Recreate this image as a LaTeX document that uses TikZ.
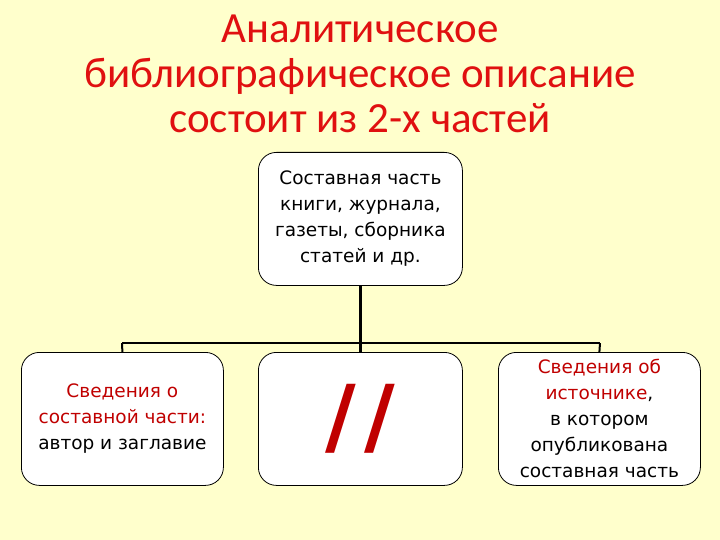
\documentclass[tikz,border=0pt]{standalone}
\usepackage{fontspec}
\setmainfont{Carlito}
\newfontfamily\boxfont{DejaVu Sans}
\begin{document}
\begin{tikzpicture}[x=1pt,y=-1pt,
  bx/.style={draw=black,fill=white,rounded corners=18pt,line width=0.8pt,minimum width=204pt,minimum height=133pt,anchor=north west,inner sep=0pt,align=center,font=\boxfont\fontsize{18.5}{26}\selectfont},
  conn/.style={line width=2pt}]
\definecolor{bg}{HTML}{FFFFCC}
\definecolor{tred}{HTML}{E01010}
\definecolor{sred}{HTML}{C00000}
\fill[bg] (0,0) rectangle (720,540);
\useasboundingbox (0,0) rectangle (720,540);
\node[text=tred,align=center,font=\fontsize{43}{45}\selectfont] (title) at (360,74) {Аналитическое\\библиографическое описание\\состоит из 2-х частей};
\node[bx] (top) at (258,152) {Составная часть\\книги, журнала,\\газеты, сборника\\статей и др.};
\node[bx,minimum width=202pt] (l) at (21,352) {\textcolor{sred}{Сведения о}\\\textcolor{sred}{составной части:}\\автор и заглавие};
\node[bx] (m) at (258,352) {};
\node[bx,minimum width=202pt] (r) at (498,352) {\textcolor{sred}{Сведения об}\\\textcolor{sred}{источнике},\\в котором\\опубликована\\составная часть};
\node[text=sred,font=\boxfont\bfseries\fontsize{84}{84}\selectfont] (sl) at (m.center) {/\kern8pt/};
\coordinate (hl) at (122,343);
\coordinate (hr) at (600,343);
\draw[line width=3pt] (top.south) -- (m.north);
\draw[conn] (hl) -- (hr);
\draw[conn] (hl) -- (l.north);
\draw[conn] (hr) -- (r.north);
\end{tikzpicture}
\end{document}
